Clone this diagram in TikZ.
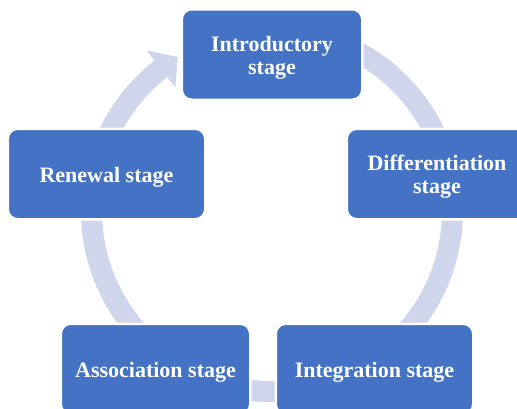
\documentclass[tikz,border=0pt]{standalone}
\usepackage{fontspec}
\setmainfont{Liberation Serif}
\definecolor{boxblue}{RGB}{68,114,196}
\definecolor{bandcol}{RGB}{207,213,234}
\newcommand\stagetext[1]{\raisebox{-3.5pt}[\height][\depth]{\begin{tabular}{@{}c@{}}#1\end{tabular}}}
\begin{document}
\begin{tikzpicture}[x=1pt,y=-1pt,
  stagebox/.style={draw=white, line width=2.5pt, fill=boxblue, rounded corners=10pt,
    text=white, font=\fontsize{22}{23}\selectfont\bfseries, align=center,
    inner sep=0pt, minimum height=90.5pt},
  band/.style={draw=bandcol, line width=21pt}]
\useasboundingbox (0,0) rectangle (517,408);
\clip (0,0) rectangle (517,408);
\coordinate (C) at (272,211);
% cycle arrow
\draw[band] ([shift={(C)}]-85:180.5) arc[start angle=-85, end angle=232.5, radius=180.5];
\fill[bandcol] ([shift={(C)}]232:157) -- ([shift={(C)}]238.5:180.5) -- ([shift={(C)}]232:204) -- cycle;
% stages
\node[stagebox, minimum width=180.5pt] (intro) at (272,54.5) {\stagetext{Introductory\\stage}};
\node[stagebox, minimum width=180.5pt] (diff) at (437,174) {\stagetext{Differentiation\\stage}};
\node[stagebox, minimum width=197.5pt] (integ) at (374.5,369) {\stagetext{Integration stage}};
\node[stagebox, minimum width=189.5pt] (assoc) at (155.5,369) {\stagetext{Association stage}};
\node[stagebox, minimum width=197.5pt] (renew) at (106.5,174) {\stagetext{Renewal stage}};
\end{tikzpicture}
\end{document}
